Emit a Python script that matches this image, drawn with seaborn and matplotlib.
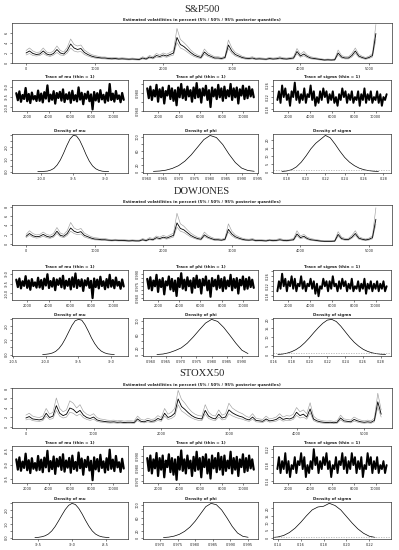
import numpy as np
import matplotlib
matplotlib.use("Agg")
import matplotlib.pyplot as plt
import seaborn as sns

# ---------------- volatility quantiles (percent), one value every 50 days ----------------
sp_med = [1.9, 2.3, 1.8, 1.6, 1.7, 2.3, 1.7, 1.5, 1.8, 2.6,
          1.9, 1.7, 2.4, 3.7, 2.9, 2.6, 2.8, 2.0, 1.6, 1.3,
          1.1, 1.0, 0.9, 0.9, 0.8, 0.75, 0.8, 0.7, 0.75, 0.7,
          0.65, 0.7, 0.65, 0.6, 0.9, 0.7, 1.1, 0.9, 1.4, 1.2,
          1.5, 1.3, 1.6, 1.9, 5.0, 3.6, 3.2, 2.6, 2.0, 1.5,
          1.2, 1.0, 2.1, 1.5, 1.2, 0.9, 0.9, 0.8, 1.0, 3.5,
          2.3, 1.6, 1.3, 1.0, 0.85, 0.8, 0.9, 0.7, 0.75, 0.7,
          0.65, 0.8, 0.7, 0.75, 0.9, 0.75, 0.7, 0.8, 0.9, 2.2,
          1.3, 1.7, 1.2, 0.9, 0.8, 0.7, 0.6, 0.5, 0.55, 0.5,
          0.55, 1.9, 1.1, 0.9, 0.9, 1.4, 2.3, 1.3, 1.0, 0.8,
          1.0, 1.4, 5.8]
sp_lo = [1.5, 1.8, 1.4, 1.3, 1.4, 1.8, 1.4, 1.2, 1.5, 2.0,
         1.5, 1.4, 1.9, 2.9, 2.3, 2.1, 2.2, 1.6, 1.3, 1.05,
         0.9, 0.8, 0.75, 0.72, 0.65, 0.6, 0.65, 0.57, 0.6, 0.56,
         0.52, 0.56, 0.52, 0.48, 0.72, 0.56, 0.88, 0.72, 1.1, 0.95,
         1.2, 1.05, 1.3, 1.5, 4.0, 2.9, 2.6, 2.1, 1.6, 1.2,
         0.95, 0.8, 1.65, 1.2, 0.95, 0.72, 0.72, 0.64, 0.8, 2.8,
         1.85, 1.3, 1.05, 0.8, 0.68, 0.64, 0.72, 0.56, 0.6, 0.56,
         0.52, 0.64, 0.56, 0.6, 0.72, 0.6, 0.56, 0.64, 0.72, 1.75,
         1.05, 1.35, 0.95, 0.72, 0.64, 0.56, 0.48, 0.4, 0.44, 0.4,
         0.44, 1.5, 0.88, 0.72, 0.72, 1.1, 1.85, 1.05, 0.8, 0.64,
         0.8, 1.1, 4.6]
sp_hi = [2.4, 2.9, 2.3, 2.0, 2.1, 2.9, 2.1, 1.9, 2.3, 3.3,
         2.4, 2.1, 3.0, 4.7, 3.6, 3.3, 3.5, 2.5, 2.0, 1.6,
         1.4, 1.25, 1.1, 1.1, 1.0, 0.95, 1.0, 0.88, 0.95, 0.88,
         0.82, 0.88, 0.82, 0.76, 1.15, 0.88, 1.4, 1.15, 1.8, 1.5,
         1.9, 1.65, 2.0, 2.4, 6.8, 4.6, 4.0, 3.3, 2.5, 1.9,
         1.5, 1.25, 2.7, 1.9, 1.5, 1.15, 1.15, 1.0, 1.25, 4.5,
         2.9, 2.0, 1.65, 1.25, 1.05, 1.0, 1.15, 0.88, 0.95, 0.88,
         0.82, 1.0, 0.88, 0.95, 1.15, 0.95, 0.88, 1.0, 1.15, 2.8,
         1.65, 2.2, 1.5, 1.15, 1.0, 0.88, 0.76, 0.64, 0.7, 0.64,
         0.7, 2.5, 1.4, 1.15, 1.15, 1.8, 2.9, 1.65, 1.25, 1.0,
         1.25, 1.8, 7.6]

dj_med = [1.6, 2.2, 1.7, 1.5, 1.6, 2.0, 1.6, 1.4, 1.7, 2.7,
          1.8, 1.6, 2.2, 3.4, 2.7, 2.4, 2.6, 1.8, 1.5, 1.2,
          1.0, 0.95, 0.85, 0.85, 0.75, 0.7, 0.75, 0.7, 0.7, 0.65,
          0.6, 0.65, 0.6, 0.6, 0.85, 0.65, 1.0, 0.85, 1.3, 1.1,
          1.4, 1.2, 1.5, 1.8, 4.5, 3.3, 3.0, 2.4, 1.8, 1.4,
          1.1, 0.95, 1.9, 1.4, 1.1, 0.85, 0.85, 0.75, 0.95, 3.1,
          2.1, 1.5, 1.2, 0.95, 0.8, 0.75, 0.85, 0.65, 0.7, 0.65,
          0.6, 0.75, 0.65, 0.7, 0.85, 0.7, 0.65, 0.75, 0.85, 2.1,
          1.3, 1.6, 1.1, 0.85, 0.75, 0.65, 0.55, 0.5, 0.5, 0.5,
          0.55, 2.0, 1.1, 0.9, 0.9, 1.4, 2.2, 1.2, 0.95, 0.8,
          0.95, 1.3, 5.3]
dj_lo = [1.3, 1.8, 1.4, 1.2, 1.3, 1.6, 1.3, 1.15, 1.4, 2.2,
         1.5, 1.3, 1.8, 2.7, 2.2, 1.95, 2.1, 1.45, 1.2, 0.98,
         0.82, 0.78, 0.7, 0.7, 0.62, 0.57, 0.62, 0.57, 0.57, 0.53,
         0.49, 0.53, 0.49, 0.49, 0.7, 0.53, 0.82, 0.7, 1.05, 0.9,
         1.15, 0.98, 1.2, 1.45, 3.6, 2.7, 2.45, 1.95, 1.45, 1.15,
         0.9, 0.78, 1.55, 1.15, 0.9, 0.7, 0.7, 0.62, 0.78, 2.5,
         1.7, 1.2, 0.98, 0.78, 0.65, 0.62, 0.7, 0.53, 0.57, 0.53,
         0.49, 0.62, 0.53, 0.57, 0.7, 0.57, 0.53, 0.62, 0.7, 1.7,
         1.05, 1.3, 0.9, 0.7, 0.62, 0.53, 0.45, 0.41, 0.41, 0.41,
         0.45, 1.6, 0.9, 0.74, 0.74, 1.15, 1.8, 0.98, 0.78, 0.66,
         0.78, 1.05, 4.2]
dj_hi = [2.0, 2.8, 2.2, 1.9, 2.0, 2.5, 2.0, 1.8, 2.2, 3.5,
         2.3, 2.0, 2.8, 4.6, 3.4, 3.0, 3.3, 2.3, 1.9, 1.5,
         1.3, 1.2, 1.1, 1.1, 0.95, 0.9, 0.95, 0.9, 0.9, 0.83,
         0.76, 0.83, 0.76, 0.76, 1.1, 0.83, 1.3, 1.1, 1.65, 1.4,
         1.8, 1.5, 1.9, 2.3, 6.6, 4.3, 3.8, 3.0, 2.3, 1.8,
         1.4, 1.2, 2.5, 1.8, 1.4, 1.1, 1.1, 0.95, 1.2, 4.3,
         2.7, 1.9, 1.5, 1.2, 1.0, 0.95, 1.1, 0.83, 0.9, 0.83,
         0.76, 0.95, 0.83, 0.9, 1.1, 0.9, 0.83, 0.95, 1.1, 2.8,
         1.65, 2.0, 1.4, 1.1, 0.95, 0.83, 0.7, 0.64, 0.64, 0.64,
         0.7, 2.6, 1.4, 1.15, 1.15, 1.8, 2.8, 1.5, 1.2, 1.0,
         1.2, 1.7, 7.8]

stx_med = [1.8, 2.1, 1.6, 1.5, 1.4, 1.6, 2.8, 1.9, 2.2, 4.4,
           2.8, 2.3, 2.6, 3.9, 3.6, 2.9, 3.4, 2.4, 1.9, 1.7,
           2.0, 1.4, 1.2, 1.1, 1.0, 0.95, 1.0, 0.9, 0.95, 0.85,
           0.9, 0.9, 0.85, 1.6, 1.1, 1.0, 1.3, 1.1, 1.2, 1.7,
           1.4, 2.8, 1.9, 2.2, 2.8, 5.8, 4.2, 3.6, 2.9, 2.3,
           1.9, 1.7, 1.6, 3.4, 2.2, 1.8, 1.6, 2.6, 1.8, 2.0,
           3.5, 2.9, 2.5, 2.2, 2.0, 1.6, 1.4, 2.0, 1.3, 1.2,
           1.1, 1.6, 1.2, 1.3, 1.5, 2.0, 1.5, 1.7, 1.6, 1.9,
           3.0, 2.3, 2.6, 2.0, 3.7, 1.6, 1.2, 1.0, 0.9, 0.85,
           0.9, 0.8, 0.9, 1.8, 1.2, 1.1, 1.0, 1.5, 1.2, 1.0,
           0.9, 1.0, 0.9, 1.3, 5.2, 2.6]
stx_lo = [1.4, 1.6, 1.25, 1.15, 1.1, 1.25, 2.2, 1.5, 1.7, 3.4,
          2.2, 1.8, 2.0, 3.0, 2.8, 2.25, 2.65, 1.85, 1.5, 1.3,
          1.55, 1.1, 0.94, 0.86, 0.78, 0.74, 0.78, 0.7, 0.74, 0.66,
          0.7, 0.7, 0.66, 1.25, 0.86, 0.78, 1.0, 0.86, 0.94, 1.3,
          1.1, 2.2, 1.5, 1.7, 2.2, 4.6, 3.3, 2.8, 2.25, 1.8,
          1.5, 1.3, 1.25, 2.65, 1.7, 1.4, 1.25, 2.0, 1.4, 1.55,
          2.7, 2.25, 1.95, 1.7, 1.55, 1.25, 1.1, 1.55, 1.0, 0.94,
          0.86, 1.25, 0.94, 1.0, 1.15, 1.55, 1.15, 1.3, 1.25, 1.5,
          2.35, 1.8, 2.0, 1.55, 2.9, 1.25, 0.94, 0.78, 0.7, 0.66,
          0.7, 0.62, 0.7, 1.4, 0.94, 0.86, 0.78, 1.15, 0.94, 0.78,
          0.7, 0.78, 0.7, 1.0, 4.1, 2.0]
stx_hi = [2.4, 2.8, 2.2, 2.0, 1.9, 2.2, 3.8, 2.6, 3.0, 6.0,
          3.8, 3.1, 3.5, 5.4, 4.9, 3.9, 4.6, 3.2, 2.6, 2.3,
          2.7, 1.9, 1.6, 1.5, 1.35, 1.3, 1.35, 1.2, 1.3, 1.15,
          1.2, 1.2, 1.15, 2.2, 1.5, 1.35, 1.75, 1.5, 1.6, 2.3,
          1.9, 3.8, 2.6, 3.0, 3.8, 7.6, 5.7, 4.9, 3.9, 3.1,
          2.6, 2.3, 2.2, 4.6, 3.0, 2.4, 2.2, 3.5, 2.4, 2.7,
          4.9, 3.9, 3.4, 3.0, 2.7, 2.2, 1.9, 2.7, 1.75, 1.6,
          1.5, 2.2, 1.6, 1.75, 2.0, 2.7, 2.0, 2.3, 2.2, 2.6,
          4.0, 3.1, 3.5, 2.7, 5.0, 2.2, 1.6, 1.35, 1.2, 1.15,
          1.2, 1.1, 1.2, 2.4, 1.6, 1.5, 1.35, 2.0, 1.6, 1.35,
          1.2, 1.35, 1.2, 1.75, 7.0, 3.5]

# ---------------- MCMC traces (draws 1001..11000) ----------------
sp_mu_tr = [-9.31, -9.66, -9.22, -9.74, -9.40, -9.60, -9.05, -9.71, -9.35, -9.80, -9.28, -9.62, -9.45, -9.70,
            -9.18, -9.69, -9.33, -9.77, -9.26, -9.58, -8.92, -9.72, -9.38, -9.64, -9.21, -9.83, -9.30, -9.55,
            -9.24, -9.68, -9.12, -9.75, -9.36, -9.61, -9.27, -9.79, -9.19, -9.66, -9.41, -9.72, -9.02, -9.63,
            -9.29, -9.86, -9.34, -9.59, -9.23, -9.71, -9.37, -10.12, -9.25, -9.67, -9.31, -9.74, -9.16, -9.62,
            -9.39, -9.78, -9.28, -9.69, -8.85, -9.65, -9.33, -9.73, -9.20, -9.60, -9.42, -9.76, -9.30, -9.64]
sp_phi_tr = [0.985, 0.974, 0.987, 0.972, 0.983, 0.976, 0.989, 0.970, 0.984, 0.975, 0.986, 0.968, 0.982, 0.977,
             0.988, 0.973, 0.985, 0.971, 0.983, 0.966, 0.986, 0.975, 0.990, 0.974, 0.984, 0.972, 0.987, 0.976,
             0.983, 0.970, 0.986, 0.974, 0.991, 0.975, 0.984, 0.969, 0.985, 0.977, 0.988, 0.972, 0.983, 0.964,
             0.986, 0.976, 0.984, 0.973, 0.989, 0.975, 0.985, 0.971, 0.987, 0.974, 0.983, 0.976, 0.990, 0.972,
             0.985, 0.975, 0.986, 0.968, 0.984, 0.977, 0.988, 0.973, 0.985, 0.974, 0.987, 0.976, 0.984, 0.975]
sp_sig_tr = [0.21, 0.24, 0.20, 0.26, 0.22, 0.25, 0.21, 0.23, 0.19, 0.24, 0.22, 0.27, 0.21, 0.24, 0.20, 0.23,
             0.21, 0.25, 0.20, 0.23, 0.22, 0.26, 0.21, 0.24, 0.19, 0.22, 0.20, 0.24, 0.21, 0.25, 0.22, 0.24,
             0.20, 0.23, 0.21, 0.24, 0.20, 0.22, 0.19, 0.23, 0.21, 0.25, 0.22, 0.24, 0.20, 0.23, 0.21, 0.24,
             0.20, 0.22, 0.21, 0.24, 0.19, 0.23, 0.21, 0.25, 0.20, 0.23, 0.21, 0.24, 0.20, 0.22, 0.21, 0.24,
             0.20, 0.23, 0.19, 0.22, 0.21, 0.23]

dj_mu_tr = [-9.30, -9.68, -9.24, -9.75, -9.38, -9.62, -9.12, -9.72, -9.34, -9.82, -9.27, -9.63, -9.44, -9.71,
            -9.20, -9.70, -9.32, -9.78, -9.25, -9.60, -9.02, -9.73, -9.37, -9.66, -9.22, -9.84, -9.29, -9.57,
            -9.23, -9.69, -9.10, -9.76, -9.35, -9.62, -9.26, -9.80, -9.18, -9.67, -8.98, -9.73, -9.31, -9.64,
            -9.28, -9.88, -9.33, -9.60, -9.22, -9.72, -9.36, -10.25, -9.24, -9.68, -9.30, -9.75, -9.15, -9.63,
            -9.38, -9.79, -9.27, -9.70, -9.05, -9.66, -9.32, -9.74, -9.19, -9.61, -9.41, -9.77, -9.29, -9.65]
dj_phi_tr = [0.984, 0.972, 0.986, 0.970, 0.982, 0.975, 0.989, 0.968, 0.983, 0.974, 0.985, 0.965, 0.981, 0.976,
             0.987, 0.971, 0.984, 0.969, 0.982, 0.963, 0.985, 0.974, 0.991, 0.972, 0.983, 0.970, 0.986, 0.975,
             0.982, 0.967, 0.985, 0.973, 0.988, 0.974, 0.983, 0.966, 0.984, 0.976, 0.987, 0.970, 0.982, 0.962,
             0.985, 0.975, 0.983, 0.971, 0.988, 0.973, 0.984, 0.969, 0.986, 0.972, 0.982, 0.975, 0.989, 0.970,
             0.984, 0.973, 0.985, 0.966, 0.983, 0.976, 0.987, 0.971, 0.984, 0.972, 0.986, 0.974, 0.983, 0.973]
dj_sig_tr = [0.20, 0.24, 0.21, 0.27, 0.22, 0.25, 0.20, 0.24, 0.22, 0.26, 0.21, 0.25, 0.20, 0.23, 0.22, 0.26,
             0.21, 0.24, 0.20, 0.23, 0.22, 0.25, 0.21, 0.24, 0.19, 0.23, 0.18, 0.22, 0.21, 0.25, 0.22, 0.24,
             0.20, 0.24, 0.21, 0.26, 0.22, 0.23, 0.20, 0.24, 0.21, 0.25, 0.22, 0.24, 0.20, 0.23, 0.21, 0.25,
             0.20, 0.22, 0.21, 0.24, 0.20, 0.23, 0.21, 0.25, 0.19, 0.23, 0.21, 0.24, 0.20, 0.23, 0.21, 0.24,
             0.20, 0.23, 0.21, 0.24, 0.20, 0.22]

stx_mu_tr = [-8.82, -9.18, -8.75, -9.22, -8.90, -9.12, -8.62, -9.20, -8.85, -9.30, -8.78, -9.15, -8.95, -9.21,
             -8.70, -9.19, -8.83, -9.27, -8.76, -9.10, -8.52, -9.24, -8.88, -9.16, -8.72, -9.33, -8.80, -9.07,
             -8.74, -9.19, -8.64, -9.25, -8.86, -9.11, -8.77, -9.29, -8.69, -9.16, -8.91, -9.22, -8.58, -9.13,
             -8.79, -9.36, -8.84, -9.09, -8.73, -9.21, -8.87, -9.55, -8.75, -9.17, -8.81, -9.24, -8.66, -9.12,
             -8.89, -9.28, -8.78, -9.19, -8.48, -9.15, -8.83, -9.23, -8.70, -9.10, -8.92, -9.26, -8.80, -9.14]
stx_phi_tr = [0.988, 0.978, 0.990, 0.976, 0.987, 0.980, 0.992, 0.974, 0.988, 0.979, 0.990, 0.973, 0.986, 0.981,
              0.991, 0.977, 0.988, 0.975, 0.987, 0.971, 0.989, 0.979, 0.994, 0.978, 0.987, 0.976, 0.990, 0.980,
              0.986, 0.974, 0.989, 0.978, 0.993, 0.979, 0.988, 0.973, 0.989, 0.981, 0.991, 0.976, 0.987, 0.972,
              0.990, 0.980, 0.988, 0.977, 0.992, 0.979, 0.989, 0.975, 0.990, 0.978, 0.986, 0.980, 0.993, 0.976,
              0.988, 0.979, 0.989, 0.974, 0.987, 0.981, 0.991, 0.977, 0.988, 0.978, 0.990, 0.980, 0.987, 0.979]
stx_sig_tr = [0.17, 0.20, 0.16, 0.19, 0.17, 0.21, 0.16, 0.19, 0.15, 0.18, 0.17, 0.20, 0.16, 0.19, 0.18, 0.21,
              0.17, 0.20, 0.15, 0.18, 0.16, 0.19, 0.17, 0.22, 0.18, 0.20, 0.16, 0.19, 0.17, 0.20, 0.18, 0.21,
              0.17, 0.19, 0.15, 0.18, 0.17, 0.20, 0.16, 0.19, 0.18, 0.21, 0.17, 0.20, 0.16, 0.19, 0.17, 0.21,
              0.18, 0.20, 0.16, 0.19, 0.17, 0.20, 0.15, 0.18, 0.17, 0.21, 0.18, 0.20, 0.16, 0.19, 0.17, 0.20,
              0.16, 0.18, 0.17, 0.19, 0.16, 0.18]

# ---------------- posterior densities ----------------
sp_mu_x = np.linspace(-10.05, -8.95, 23)
sp_mu_d = [0.00, 0.01, 0.02, 0.04, 0.12, 0.26, 0.54, 0.96, 1.52, 2.15, 2.70, 3.00,
           2.96, 2.60, 2.03, 1.40, 0.86, 0.47, 0.23, 0.10, 0.03, 0.01, 0.00]
sp_phi_x = np.linspace(0.962, 0.994, 17)
sp_phi_d = [0.5, 1.5, 4, 9, 17, 30, 48, 70, 92, 104, 98, 78, 50, 26, 10, 3, 0.8]
sp_sig_x = np.linspace(0.175, 0.275, 21)
sp_sig_d = [0.1, 0.4, 1.2, 3, 6, 10, 14.5, 18, 20.5, 23, 21.5, 17.5, 13, 9, 6, 3.8, 2.2, 1.2, 0.6, 0.25, 0.1]

dj_mu_x = np.linspace(-10.05, -8.95, 23)
dj_mu_d = [0.01, 0.02, 0.05, 0.11, 0.22, 0.42, 0.72, 1.12, 1.58, 2.03, 2.36, 2.45,
           2.40, 2.08, 1.64, 1.16, 0.76, 0.45, 0.24, 0.12, 0.05, 0.02, 0.01]
dj_phi_x = np.linspace(0.962, 0.992, 16)
dj_phi_d = [0.3, 1.7, 5.6, 12, 20, 34, 53, 74, 94, 105, 99, 81, 58, 34, 13, 3]
dj_sig_x = np.linspace(0.165, 0.285, 25)
dj_sig_d = [0.1, 0.3, 0.8, 1.6, 2.8, 4.5, 6.8, 9.5, 12.5, 15.3, 17.8, 19.6, 20.0,
            18.8, 16.2, 13, 9.8, 7, 4.8, 3, 1.8, 1.0, 0.5, 0.2, 0.1]

stx_mu_x = np.linspace(-9.55, -8.45, 23)
stx_mu_d = [0.01, 0.02, 0.06, 0.13, 0.26, 0.48, 0.80, 1.20, 1.62, 2.02, 2.32, 2.46,
            2.38, 2.10, 1.70, 1.24, 0.82, 0.48, 0.25, 0.12, 0.05, 0.02, 0.01]
stx_phi_x = np.linspace(0.971, 0.995, 17)
stx_phi_d = [0.3, 1.5, 4.5, 10, 19, 32, 50, 72, 94, 104, 100, 84, 60, 34, 14, 4, 1]
stx_sig_x = np.linspace(0.135, 0.225, 19)
stx_sig_d = [0.1, 0.5, 1.5, 3.5, 6.5, 10.5, 15, 19, 21, 21.5, 23.5, 22, 19, 14.5, 10, 6, 3, 1, 0.2]

sigma_prior_level = 0.8

# ---------------- layout ----------------
W, H = 399, 550
sns.set_style("ticks")
plt.rcParams['font.family'] = ['DejaVu Sans']

fig = plt.figure(figsize=(W / 100, H / 100), dpi=100)
TICK_FS = 2.5
TITLE_FS = 2.9


def add_box(l, t, r, b):
    return fig.add_axes([l / W, 1 - b / H, (r - l) / W, (b - t) / H])


def fmt(ax, xlim, xt, xl, ylim, yt, yl, title):
    ax.set_xlim(xlim)
    ax.set_ylim(ylim)
    ax.set_xticks(xt)
    ax.set_xticklabels(xl)
    ax.set_yticks(yt)
    ax.set_yticklabels(yl, rotation=90, va='center')
    ax.tick_params(length=1.6, width=0.4, labelsize=TICK_FS, pad=1.0,
                   colors='#222222')
    for s in ax.spines.values():
        s.set_linewidth(0.5)
        s.set_color('#333333')
    ax.set_xlabel('')
    ax.set_ylabel('')
    ax.set_title(title, fontsize=TITLE_FS, fontweight='bold', pad=1.6)


def lab(vals, f, keep=None):
    out = []
    for i, v in enumerate(vals):
        out.append(f % v if keep is None or i in keep else '')
    return out


cols = [(12, 128), (143, 258), (273, 391)]

sections = [
    dict(name='S&P500', ty=10, vol=(23, 63), tr=(80, 111), de=(134, 173),
         t=np.arange(0, 5101, 50), med=sp_med, lo=sp_lo, hi=sp_hi,
         vxlim=(-205, 5335), vylim=(-0.1, 7.9), vyt=[0, 2, 4, 6],
         traces=[sp_mu_tr, sp_phi_tr, sp_sig_tr],
         tylim=[(-10.2, -8.65), (0.9595, 0.9945), (0.172, 0.279)],
         tyt=[[-10.0, -9.5, -9.0], [0.96, 0.97, 0.98, 0.99], [0.18, 0.20, 0.22, 0.24, 0.26]],
         tyf=[('%.1f', None), ('%.3f', [0, 2]), ('%.2f', [0, 2, 4])],
         dens=[(sp_mu_x, sp_mu_d), (sp_phi_x, sp_phi_d), (sp_sig_x, sp_sig_d)],
         dxlim=[(-10.45, -8.65), (0.9587, 0.9952), (0.1657, 0.288)],
         dxt=[[-10.0, -9.5, -9.0], np.arange(0.960, 0.9951, 0.005), np.arange(0.18, 0.281, 0.02)],
         dxf=['%.1f', '%.3f', '%.2f'],
         dylim=[(-0.12, 3.12), (-4.2, 108.2), (-0.9, 23.9)],
         dyt=[[0, 0.5, 1, 1.5, 2, 2.5, 3], [0, 20, 40, 60, 80, 100], [0, 5, 10, 15, 20]],
         dyf=[('%.1f', [0, 2, 4]), ('%d', [0, 1, 3, 5]), ('%d', None)]),
    dict(name='DOWJONES', ty=192, vol=(205, 245), tr=(270, 300), de=(318, 356),
         t=np.arange(0, 5101, 50), med=dj_med, lo=dj_lo, hi=dj_hi,
         vxlim=(-205, 5335), vylim=(-0.3, 8.4), vyt=[0, 2, 4, 6, 8],
         traces=[dj_mu_tr, dj_phi_tr, dj_sig_tr],
         tylim=[(-10.35, -8.8), (0.958, 0.995), (0.165, 0.285)],
         tyt=[[-10.0, -9.5, -9.0], np.arange(0.960, 0.9901, 0.005), [0.18, 0.20, 0.22, 0.24, 0.26, 0.28]],
         tyf=[('%.1f', None), ('%.3f', [0, 3, 6]), ('%.2f', [0, 2, 4])],
         dens=[(dj_mu_x, dj_mu_d), (dj_phi_x, dj_phi_d), (dj_sig_x, dj_sig_d)],
         dxlim=[(-10.52, -8.74), (0.9574, 0.9953), (0.1595, 0.291)],
         dxt=[[-10.5, -10.0, -9.5, -9.0], np.arange(0.960, 0.9901, 0.005), np.arange(0.16, 0.281, 0.02)],
         dxf=['%.1f', '%.3f', '%.2f'],
         dylim=[(-0.1, 2.55), (-4.2, 109.2), (-0.8, 20.8)],
         dyt=[[0, 0.5, 1, 1.5, 2, 2.5], [0, 20, 40, 60, 80, 100], [0, 5, 10, 15, 20]],
         dyf=[('%.1f', [0, 2, 4]), ('%d', [0, 1, 3, 5]), ('%d', None)]),
    dict(name='STOXX50', ty=373, vol=(388, 428), tr=(446, 483), de=(502, 539),
         t=np.arange(0, 5251, 50), med=stx_med, lo=stx_lo, hi=stx_hi,
         vxlim=(-205, 5410), vylim=(-0.3, 8.1), vyt=[0, 2, 4, 6, 8],
         traces=[stx_mu_tr, stx_phi_tr, stx_sig_tr],
         tylim=[(-9.65, -8.35), (0.9685, 0.9975), (0.135, 0.228)],
         tyt=[[-9.5, -9.0, -8.5], np.arange(0.970, 0.9951, 0.005), [0.14, 0.16, 0.18, 0.20, 0.22]],
         tyf=[('%.1f', None), ('%.3f', [0, 2, 4]), ('%.2f', [0, 2, 4])],
         dens=[(stx_mu_x, stx_mu_d), (stx_phi_x, stx_phi_d), (stx_sig_x, stx_sig_d)],
         dxlim=[(-9.89, -8.17), (0.9652, 0.9978), (0.1357, 0.239)],
         dxt=[[-9.5, -9.0, -8.5], np.arange(0.970, 0.9951, 0.005), np.arange(0.14, 0.221, 0.02)],
         dxf=['%.1f', '%.3f', '%.2f'],
         dylim=[(-0.1, 2.56), (-4.2, 108.2), (-0.9, 24.4)],
         dyt=[[0, 0.5, 1, 1.5, 2, 2.5], [0, 20, 40, 60, 80, 100], [0, 5, 10, 15, 20]],
         dyf=[('%.1f', [0, 2, 4]), ('%d', [0, 1, 3, 5]), ('%d', None)]),
]

params = ['mu', 'phi', 'sigma']
trace_lw = [1.6, 1.6, 1.4]
draw_it = np.linspace(1001, 11000, len(sp_mu_tr))

for sec in sections:
    fig.text(202 / W, 1 - sec['ty'] / H, sec['name'], ha='center', va='center',
             fontsize=7.6, family='Liberation Serif')

    # volatility panel
    ax = add_box(12, sec['vol'][0], 392, sec['vol'][1])
    sns.lineplot(x=sec['t'], y=sec['lo'], ax=ax, color='#a0a0a0', linewidth=0.45, estimator=None)
    sns.lineplot(x=sec['t'], y=sec['hi'], ax=ax, color='#a0a0a0', linewidth=0.45, estimator=None)
    sns.lineplot(x=sec['t'], y=sec['med'], ax=ax, color='black', linewidth=0.6, estimator=None)
    fmt(ax, sec['vxlim'], range(0, 5001, 1000), [str(v) for v in range(0, 5001, 1000)],
        sec['vylim'], sec['vyt'], [str(v) for v in sec['vyt']],
        'Estimated volatilities in percent (5% / 50% / 95% posterior quantiles)')

    for k in range(3):
        l, r = cols[k]
        # trace panel
        ax = add_box(l, sec['tr'][0], r, sec['tr'][1])
        sns.lineplot(x=draw_it, y=sec['traces'][k], ax=ax, color='black', linewidth=trace_lw[k],
                     estimator=None, sort=False)
        f, keep = sec['tyf'][k]
        fmt(ax, (601, 11400), range(2000, 10001, 2000), [str(v) for v in range(2000, 10001, 2000)],
            sec['tylim'][k], sec['tyt'][k], lab(sec['tyt'][k], f, keep),
            'Trace of %s (thin = 1)' % params[k])

        # density panel
        ax = add_box(l, sec['de'][0], r, sec['de'][1])
        dx, dy = sec['dens'][k]
        sns.lineplot(x=dx, y=dy, ax=ax, color='black', linewidth=0.5, estimator=None)
        if k == 2:
            ax.axhline(sigma_prior_level, color='#9a9a9a', linewidth=0.45, linestyle=(0, (2, 2)))
        f, keep = sec['dyf'][k]
        fmt(ax, sec['dxlim'][k], sec['dxt'][k], lab(sec['dxt'][k], sec['dxf'][k]),
            sec['dylim'][k], sec['dyt'][k], lab(sec['dyt'][k], f, keep),
            'Density of %s' % params[k])

fig.savefig('out.png', dpi=100)
